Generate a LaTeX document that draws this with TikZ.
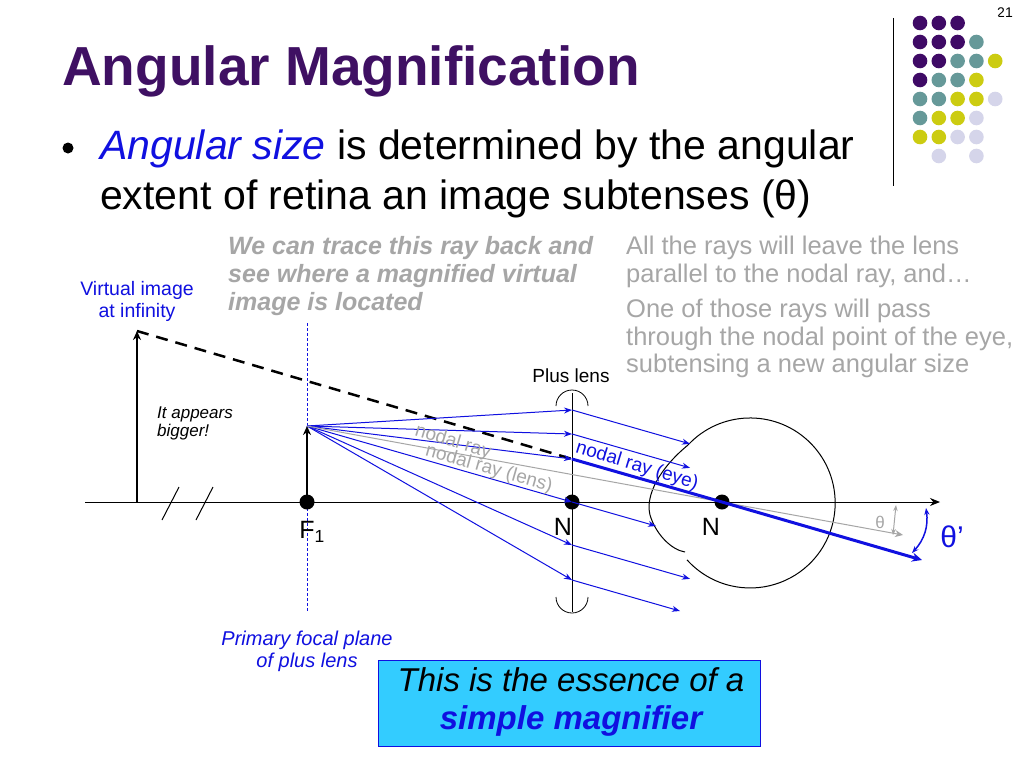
\documentclass[tikz,border=0pt]{standalone}
\usepackage{fontspec}
\setmainfont{Liberation Sans}
\usetikzlibrary{arrows.meta}
\definecolor{ttl}{HTML}{3F1063}
\definecolor{cP}{HTML}{3F0A66}
\definecolor{cT}{HTML}{669999}
\definecolor{cY}{HTML}{CCCC11}
\definecolor{cL}{HTML}{D5D5EA}
\definecolor{cN}{HTML}{FFFFFF}
\definecolor{gtxt}{HTML}{A6A6A6}
\definecolor{rayc}{HTML}{1010E0}
\definecolor{boxc}{HTML}{33CCFF}
\tikzset{
  raya/.style={rayc,line width=1pt,-{Stealth[length=8pt,width=6pt]}},
  dotn/.style={circle,fill=black,inner sep=0pt,minimum size=15pt},
  gtext/.style={gtxt,font=\fontsize{25}{28}\selectfont\bfseries\itshape,align=left,anchor=north west,inner sep=0pt},
  ltext/.style={gtxt,font=\fontsize{25.5}{27.5}\selectfont,align=left,anchor=north west,inner sep=0pt},
  lbl/.style={font=\fontsize{25}{25}\selectfont,inner sep=0pt}
}
\begin{document}
\begin{tikzpicture}[x=1pt,y=-1pt]
\useasboundingbox (0,0) rectangle (1024,768);
\fill[white] (0,0) rectangle (1024,768);
% header
\node[anchor=base west,inner sep=0pt,text=ttl,font=\fontsize{55}{55}\selectfont\bfseries] (title) at (62,85) {Angular Magnification};
\node[anchor=base east,inner sep=0pt,font=\fontsize{14}{14}\selectfont] (pg) at (1013,18) {21};
\draw[line width=1pt] (893,18) -- (893,186);
\foreach \r/\row in {0/{P,P,P,N,N},1/{P,P,P,T,N},2/{P,P,T,T,Y},3/{P,T,T,Y,N},4/{T,T,Y,Y,L},5/{T,Y,Y,L,N},6/{Y,Y,L,L,N},7/{N,L,N,L,N}}{
  \foreach \c [count=\i from 0] in \row {
    \fill[c\c] (920+18.8*\i,23+19*\r) circle (7.3);
  }
}
\fill (68,148) circle (5.5);
\node[anchor=base west,inner sep=0pt,font=\fontsize{41}{50}\selectfont,align=left] (bul) at (100,159) {\textcolor{rayc}{\itshape Angular size} is determined by the angular};
\node[anchor=base west,inner sep=0pt,font=\fontsize{41}{50}\selectfont] (bul2) at (100,209) {extent of retina an image subtenses (\symbol{"03B8})};
% gray notes
\node[gtext] (n1) at (228,236) {We can trace this ray back and\\see where a magnified virtual\\image is located};
\node[ltext] (n2) at (626,236) {All the rays will leave the lens\\parallel to the nodal ray, and…};
\node[ltext] (n3) at (626,299) {One of those rays will pass\\through the nodal point of the eye,\\subtensing a new angular size};
% focal plane
\draw[rayc,densely dashed,line width=0.6pt] (307,323) -- (307,612);
\node[rayc,font=\fontsize{19.5}{22}\selectfont,align=center] (vi) at (137,301) {Virtual image\\at infinity};
\node[font=\fontsize{17}{18}\selectfont\itshape,align=left,anchor=north west,inner sep=0pt] (ap) at (157,407) {It appears\\bigger!};
\node[rayc,font=\fontsize{20}{22}\selectfont\itshape,align=center] (pf) at (307,651) {Primary focal plane\\of plus lens};
% axis
\coordinate (a0) at (85,502);
\coordinate (a1) at (940,502);
\draw[line width=1pt,-{Stealth[length=10pt,width=8pt]}] (a0) -- (a1);
\draw[line width=1pt] (162,520) -- (179,487) (196,520) -- (213,487);
\coordinate (vb) at (137,502); \coordinate (vt) at (137,331);
\draw[line width=2.5pt,-{Stealth[length=9pt,width=8pt]}] (vb) -- (vt);
\node[dotn] (F) at (307,502) {};
\coordinate (ft) at (307,426);
\draw[line width=2.5pt,-{Stealth[length=9pt,width=8pt]}] (F.center) -- (ft);
\node[lbl,anchor=north] (Fl) at (312,521) {F\textsubscript{1}};
% lens
\draw[line width=1pt] (572,393) -- (572,612);
\draw[line width=0.8pt] (556,406) arc (180:360:16);
\draw[line width=0.8pt] (556,597) arc (180:0:16);
\node[dotn] (L) at (572,502) {};
\node[lbl,anchor=north] (Ll) at (563,518) {N};
\node[font=\fontsize{19}{19}\selectfont] (pl) at (571,376) {Plus lens};
% eye
\draw[line width=1pt] (688,445) arc (-137:138:85);
\draw[line width=1pt] (688,445) .. controls (660,468) and (645,495) .. (650,515) .. controls (656,535) and (672,550) .. (685,552);
\node[dotn] (E) at (722,502) {};
\node[lbl,anchor=north] (El) at (711,518) {N};
% dashed virtual ray
\coordinate (lc) at (572,459);
\draw[line width=2.5pt,dash pattern=on 12pt off 8pt] (vt) -- (lc);
% rays
\foreach \y/\e in {410/118, 434/118, 545/118, 580/108}{
  \draw[raya] (ft) -- (572,\y);
  \draw[raya] (572,\y) -- ++(\e,0.287*\e);
}
\draw[raya] (ft) -- (lc);
\draw[raya] (ft) -- (L.center);
\draw[raya] (L.center) -- ++(84,24);
% gray nodal ray
\draw[gtxt,line width=1pt,-{Stealth[length=8pt,width=7pt]}] (ft) -- (E.center) -- (903,535);
% thick blue nodal eye ray
\draw[raya,line width=3pt,-{Stealth[length=10pt,width=9pt]}] (lc) -- (E.center) -- (922,560);
% labels along rays
\node[gtxt,rotate=-17,font=\fontsize{19}{19}\selectfont] (nr1) at (453,442) {nodal ray};
\node[gtxt,rotate=-16,font=\fontsize{19}{19}\selectfont] (nr2) at (489,469) {nodal ray (lens)};
\node[rayc,rotate=-17,font=\fontsize{19}{19}\selectfont] (nr3) at (637,466) {nodal ray (eye)};
% angles
\draw[gtxt,line width=1pt,{Stealth[length=6pt]}-{Stealth[length=6pt]}] (896,505) -- (893,535);
\node[gtxt,font=\fontsize{17}{17}\selectfont] (th) at (880,522) {\symbol{"03B8}};
\draw[rayc,line width=1.5pt,{Stealth[length=7pt]}-{Stealth[length=7pt]}] (926,508) to[bend left=25] (912,553);
\node[rayc,font=\fontsize{30}{30}\selectfont] (thp) at (952,537) {\symbol{"03B8}’};
% box
\node[draw=rayc,fill=boxc,line width=1pt,minimum width=382pt,minimum height=86pt,inner sep=0pt] (box) at (569,703) {};
\node[font=\fontsize{33}{38}\selectfont,align=center] (bt) at (571,702) {\itshape This is the essence of a\\\textcolor{rayc}{\bfseries\itshape simple magnifier}};
\end{tikzpicture}
\end{document}
